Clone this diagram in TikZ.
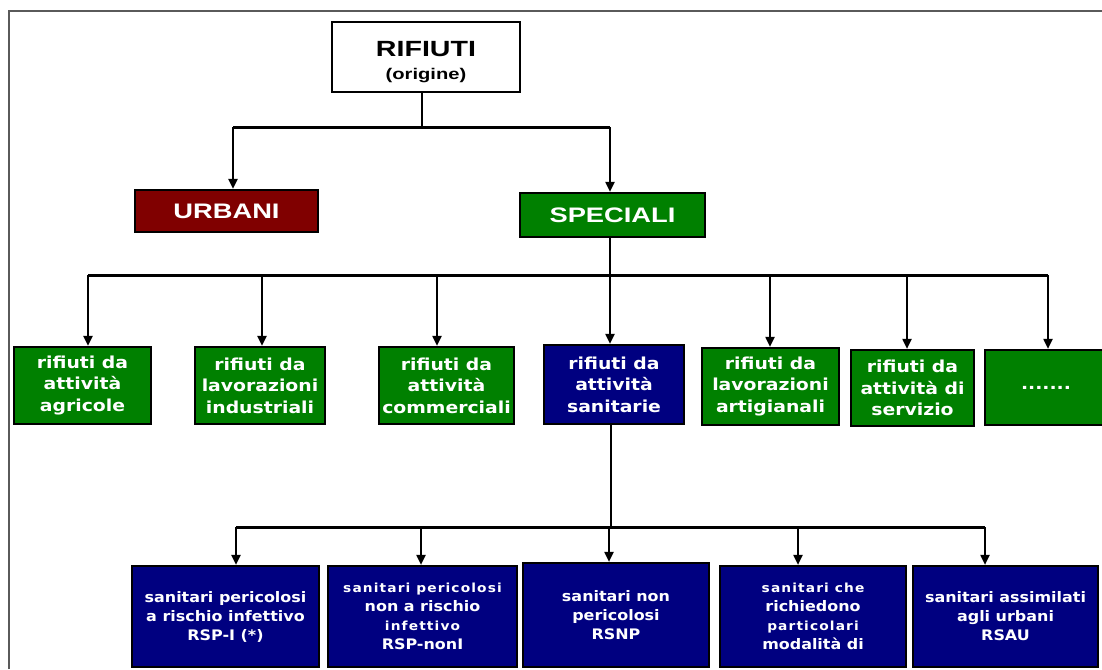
\documentclass[tikz,border=0pt]{standalone}
\usepackage{fontspec}
\setmainfont{Liberation Sans}
\newfontfamily\midfont{DejaVu Sans}[FakeStretch=1.14]
\newfontfamily\lowfont{DejaVu Sans}[FakeStretch=1.1]
\newfontfamily\lowsmall{DejaVu Sans}[FakeStretch=1.1, LetterSpace=9]
\newfontfamily\capfont{Liberation Sans}[FakeStretch=1.3]
\usetikzlibrary{arrows.meta}
\definecolor{dgreen}{RGB}{0,128,0}
\definecolor{dred}{RGB}{128,0,0}
\definecolor{dblue}{RGB}{0,0,128}
\definecolor{framec}{RGB}{90,90,90}
\newcommand{\smline}[1]{{\lowsmall\bfseries\fontsize{12.5}{19}\selectfont #1}}
\tikzset{
  box/.style={draw=black, line width=2.2pt, inner sep=0pt, align=center, text=white,
    font={\midfont\bfseries\fontsize{16.5}{21.5}\selectfont}},
  gbox/.style={box, fill=dgreen, minimum height=77pt},
  lowbox/.style={box, fill=dblue, minimum height=101pt,
    font={\lowfont\bfseries\fontsize{14.5}{19}\selectfont}},
  capbox/.style={box, font={\capfont\bfseries\fontsize{21}{24}\selectfont}},
  arr/.style={line width=2pt, -{Triangle[length=10pt,width=9pt]}},
  bus/.style={line width=3pt},
  conn/.style={line width=2pt},
}
\begin{document}
\begin{tikzpicture}[x=1pt,y=-1pt]
\useasboundingbox (0,0) rectangle (1102,669);
% frame
\draw[framec, line width=1.5pt] (9,669) -- (9,11) -- (1102,11);

% top
\node[draw=black, line width=2.2pt, fill=white, minimum width=188pt, minimum height=70pt, inner sep=0pt, align=center,
  font={\capfont\bfseries\fontsize{15.5}{24}\selectfont}]
  (top) at (426,57) {\rule{0pt}{26pt}{\fontsize{22}{24}\selectfont RIFIUTI}\\[-1pt](origine)};

% second level
\node[capbox, fill=dred, minimum width=183pt, minimum height=42pt] (urb) at (226.5,211) {URBANI};
\node[capbox, fill=dgreen, minimum width=185pt, minimum height=44pt] (spe) at (612.5,215) {SPECIALI};

\coordinate (j1) at (422,127);
\coordinate (u1) at (233,127);
\coordinate (s1) at (610,127);
\draw[conn] (top.south -| j1) -- (j1);
\draw[bus] (u1) -- (s1);
\draw[arr] (u1) -- (u1 |- urb.north);
\draw[arr] (s1) -- (s1 |- spe.north);

% third level
\node[gbox, minimum width=137pt] (a1) at (82.5,385.5) {rifiuti da\\attività\\agricole};
\node[gbox, minimum width=130pt] (a2) at (260,385.5) {rifiuti da\\lavorazioni\\industriali};
\node[gbox, minimum width=135pt] (a3) at (446.5,385.5) {rifiuti da\\attività\\commerciali};
\node[box, fill=dblue, minimum width=140pt, minimum height=79pt] (a4) at (614,384.5) {rifiuti da\\attività\\sanitarie};
\node[gbox, minimum width=137pt] (a5) at (770.5,386.5) {rifiuti da\\lavorazioni\\artigianali};
\node[gbox, minimum width=123pt, minimum height=76pt] (a6) at (912.5,388) {rifiuti da\\attività di\\servizio};
\node[gbox, minimum width=122pt, minimum height=75pt] (a7) at (1046,387.5) {.......};

\coordinate (j2) at (610,275);
\coordinate (l2) at (88,275);
\coordinate (r2) at (1048,275);
\draw[conn] (spe.south -| j2) -- (j2);
\draw[bus] (l2) -- (r2);
\foreach \xx/\nn in {88/a1, 262/a2, 437/a3, 610/a4, 770/a5, 907/a6, 1048/a7}
  \draw[arr] (\xx,275) -- (\xx,0 |- \nn.north);

% fourth level
\node[lowbox, minimum width=187pt] (b1) at (225.5,616.5) {sanitari pericolosi\\a rischio infettivo\\RSP-I (*)};
\node[lowbox, minimum width=189pt] (b2) at (422.5,616.5) {\smline{sanitari pericolosi}\\non a rischio\\\smline{infettivo}\\RSP-nonI};
\node[lowbox, minimum width=186pt, minimum height=104pt] (b3) at (616,615) {sanitari non\\pericolosi\\RSNP};
\node[lowbox, minimum width=186pt] (b4) at (813,616.5) {\smline{sanitari che}\\richiedono\\\smline{particolari}\\modalità di};
\node[lowbox, minimum width=185pt] (b5) at (1005.5,616.5) {sanitari assimilati\\agli urbani\\RSAU};

\coordinate (j3) at (611,527);
\draw[conn] (a4.south -| j3) -- (j3);
\draw[bus] (236,527) -- (985,527);
\foreach \xx/\nn in {236/b1, 421/b2, 609/b3, 798/b4, 985/b5}
  \draw[arr] (\xx,527) -- (\xx,0 |- \nn.north);
\end{tikzpicture}
\end{document}
